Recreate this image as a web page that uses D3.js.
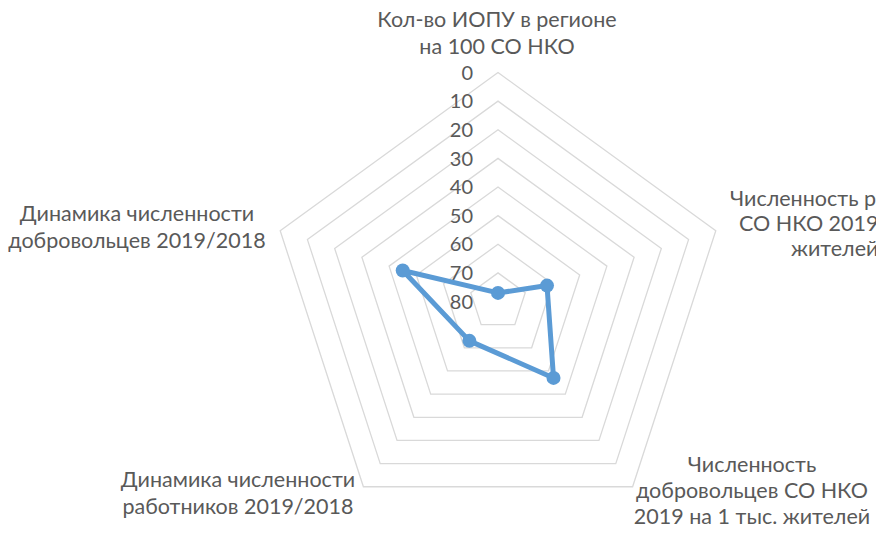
<!DOCTYPE html>
<html>
<head>
<meta charset="utf-8">
<script src="https://cdn.jsdelivr.net/npm/d3@7"></script>
<style>
  body { margin: 0; background: #fff; }
  text { font-family: Lato, "Noto Sans", sans-serif; fill: #595959; }
</style>
</head>
<body>
<script>
// axis names (each line of the label as drawn)
const categories = [
    ["Кол-во ИОПУ в регионе", "на 100 СО НКО"],
    ["Численность работников", "СО НКО 2019 на 1 тыс.", "жителей"],
    ["Численность", "добровольцев СО НКО", "2019 на 1 тыс. жителей"],
    ["Динамика численности", "работников 2019/2018"],
    ["Динамика численности", "добровольцев 2019/2018"]
];
const values = [77, 62, 47, 63, 45];
const ticks = [0, 10, 20, 30, 40, 50, 60, 70, 80];

const width = 876;
const height = 536;
const cx = 498, cy = 301.5, R = 229;

const svg = d3.select("body").append("svg")
    .attr("width", width)
    .attr("height", height);

// reversed radial axis: 0 on the outer ring, 80 at the centre
const rscale = d3.scaleLinear()
    .domain([d3.min(ticks), d3.max(ticks)])
    .range([R, 0]);

const angle = i => i * 2 * Math.PI / categories.length;
const px = (i, r) => cx + r * Math.sin(angle(i));
const py = (i, r) => cy - r * Math.cos(angle(i));

// grid pentagons
svg.append("g")
    .selectAll("polygon")
    .data(ticks.filter(t => rscale(t) > 0))
    .join("polygon")
    .attr("points", t => categories.map((c, i) => [px(i, rscale(t)), py(i, rscale(t))].join(",")).join(" "))
    .attr("fill", "none")
    .attr("stroke", "#d9d9d9")
    .attr("stroke-width", 1.3);

// tick labels
svg.append("g")
    .selectAll("text")
    .data(ticks)
    .join("text")
    .attr("x", 473)
    .attr("y", t => cy - rscale(t))
    .attr("dy", "0.36em")
    .attr("text-anchor", "end")
    .attr("font-size", 20)
    .text(t => t);

// category labels
const labelPos = [
    {x: 497, y: 27, anchor: "middle", lh: 26.5},
    {x: 730, y: 206, anchor: "start", lh: 25, offs: [0, 9, 61]},
    {x: 752, y: 472, anchor: "middle", lh: 26},
    {x: 238, y: 487, anchor: "middle", lh: 26.5},
    {x: 137, y: 221, anchor: "middle", lh: 27}
];
categories.forEach((lines, i) => {
    const p = labelPos[i];
    const t = svg.append("text")
        .attr("text-anchor", p.anchor)
        .attr("font-size", 21.5);
    lines.forEach((l, k) => {
        t.append("tspan")
            .attr("x", p.x + (p.offs ? p.offs[k] : 0))
            .attr("y", p.y + k * p.lh)
            .text(l);
    });
});

// series
const line = d3.line()
    .x((d, i) => px(i, rscale(d)))
    .y((d, i) => py(i, rscale(d)))
    .curve(d3.curveLinearClosed);

svg.append("path")
    .datum(values)
    .attr("d", line)
    .attr("fill", "none")
    .attr("stroke", "#5b9bd5")
    .attr("stroke-width", 5)
    .attr("stroke-linejoin", "round");

svg.append("g")
    .selectAll("circle")
    .data(values)
    .join("circle")
    .attr("cx", (d, i) => px(i, rscale(d)))
    .attr("cy", (d, i) => py(i, rscale(d)))
    .attr("r", 7)
    .attr("fill", "#5b9bd5");
</script>
</body>
</html>
